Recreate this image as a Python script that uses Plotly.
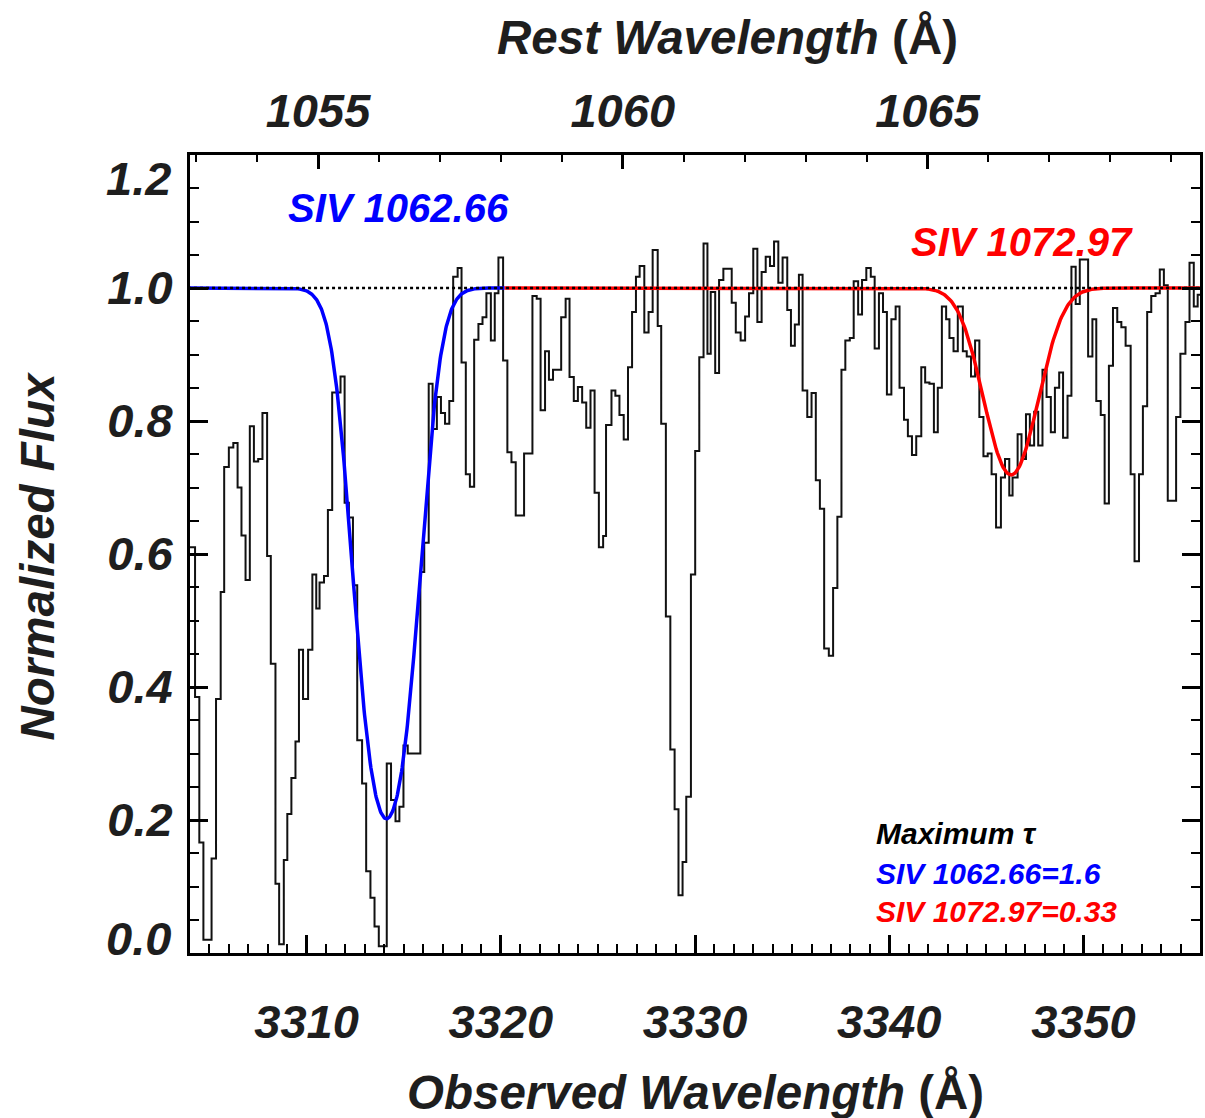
import numpy as np
import plotly.graph_objects as go

# ---------------- data ----------------
# Observed spectrum (step plot): wavelength where each flux level starts (Angstrom)
obs_wave = [
    3303.90, 3304.26, 3304.48, 3304.69, 3305.11, 3305.34, 3305.58, 3305.76, 3306.00, 3306.23,
    3306.45, 3306.65, 3306.86, 3307.08, 3307.29, 3307.51, 3307.73, 3307.97, 3308.16, 3308.40,
    3308.59, 3308.83, 3309.01, 3309.22, 3309.43, 3309.61, 3309.82, 3310.08, 3310.30, 3310.50,
    3310.67, 3310.90, 3311.10, 3311.32, 3311.75, 3311.96, 3312.18, 3312.39, 3312.61, 3312.86,
    3313.07, 3313.29, 3313.50, 3313.72, 3314.13, 3314.35, 3314.58, 3314.78, 3314.99, 3315.21,
    3315.86, 3316.06, 3316.29, 3316.49, 3316.71, 3316.92, 3317.13, 3317.35, 3317.55, 3317.78,
    3317.98, 3318.20, 3318.41, 3318.63, 3318.85, 3319.06, 3319.26, 3319.49, 3319.69, 3319.88,
    3320.12, 3320.34, 3320.55, 3320.77, 3321.20, 3321.63, 3321.85, 3322.05, 3322.28, 3322.48,
    3322.69, 3323.11, 3323.34, 3323.54, 3323.76, 3323.97, 3324.19, 3324.40, 3324.62, 3324.83,
    3325.05, 3325.27, 3325.42, 3325.70, 3325.90, 3326.11, 3326.33, 3326.55, 3326.76, 3326.96,
    3327.15, 3327.39, 3327.61, 3327.82, 3328.08, 3328.26, 3328.50, 3328.73, 3328.95, 3329.15,
    3329.36, 3329.55, 3329.79, 3330.01, 3330.22, 3330.44, 3330.64, 3330.81, 3331.04, 3331.24,
    3331.46, 3331.89, 3332.10, 3332.35, 3332.58, 3332.78, 3333.00, 3333.21, 3333.43, 3333.64,
    3333.86, 3334.07, 3334.29, 3334.51, 3334.75, 3334.94, 3335.14, 3335.35, 3335.54, 3335.78,
    3336.00, 3336.22, 3336.43, 3336.65, 3336.89, 3337.11, 3337.33, 3337.54, 3337.74, 3337.97,
    3338.17, 3338.40, 3338.60, 3338.82, 3339.05, 3339.25, 3339.47, 3339.68, 3339.88, 3340.11,
    3340.33, 3340.53, 3340.76, 3340.96, 3341.17, 3341.39, 3341.65, 3341.85, 3342.07, 3342.30,
    3342.50, 3342.71, 3342.93, 3343.10, 3343.31, 3343.53, 3343.79, 3343.99, 3344.21, 3344.42,
    3344.64, 3344.85, 3345.07, 3345.27, 3345.50, 3345.75, 3345.96, 3346.18, 3346.35, 3346.61,
    3346.81, 3347.04, 3347.24, 3347.46, 3347.67, 3347.89, 3348.10, 3348.32, 3348.53, 3348.75,
    3348.95, 3349.18, 3349.38, 3349.60, 3349.81, 3350.24, 3350.46, 3350.66, 3350.89, 3351.09,
    3351.31, 3351.52, 3351.74, 3351.95, 3352.17, 3352.43, 3352.63, 3352.86, 3353.06, 3353.28,
    3353.49, 3353.71, 3353.93, 3354.14, 3354.34, 3354.77, 3354.99, 3355.25, 3355.46, 3355.68,
    3355.88, 3356.20,
]
norm_flux = [
    0.610, 0.385, 0.166, 0.020, 0.142, 0.382, 0.543, 0.731, 0.760, 0.767,
    0.700, 0.628, 0.561, 0.792, 0.739, 0.743, 0.812, 0.597, 0.435, 0.104,
    0.013, 0.140, 0.209, 0.263, 0.318, 0.456, 0.382, 0.456, 0.569, 0.518,
    0.557, 0.567, 0.666, 0.843, 0.867, 0.677, 0.655, 0.553, 0.320, 0.255,
    0.123, 0.083, 0.040, 0.010, 0.285, 0.230, 0.198, 0.220, 0.312, 0.300,
    0.573, 0.617, 0.856, 0.788, 0.836, 0.812, 0.796, 0.830, 1.017, 1.030,
    0.888, 0.720, 0.701, 0.922, 0.946, 0.956, 0.992, 0.921, 0.992, 1.046,
    0.891, 0.753, 0.738, 0.658, 0.751, 0.988, 0.984, 0.816, 0.905, 0.862,
    0.877, 0.956, 0.984, 0.866, 0.830, 0.851, 0.828, 0.790, 0.846, 0.692,
    0.610, 0.627, 0.794, 0.846, 0.838, 0.809, 0.772, 0.881, 0.964, 1.017,
    1.033, 0.933, 0.964, 1.057, 0.943, 0.796, 0.506, 0.306, 0.216, 0.087,
    0.137, 0.235, 0.569, 0.755, 0.896, 1.067, 0.901, 0.994, 0.872, 1.012,
    1.029, 0.978, 0.933, 0.921, 0.957, 0.992, 1.059, 0.949, 1.024, 1.047,
    1.033, 1.070, 1.008, 1.046, 0.967, 0.913, 0.945, 1.020, 0.846, 0.806,
    0.842, 0.711, 0.668, 0.458, 0.447, 0.549, 0.656, 0.877, 0.921, 0.925,
    1.010, 0.960, 1.012, 1.030, 1.017, 0.909, 0.992, 0.964, 0.840, 0.953,
    0.972, 0.850, 0.802, 0.777, 0.749, 0.777, 0.881, 0.858, 0.856, 0.783,
    0.850, 0.972, 0.953, 0.925, 0.905, 0.972, 0.905, 0.897, 0.867, 0.921,
    0.806, 0.747, 0.751, 0.720, 0.640, 0.715, 0.743, 0.688, 0.715, 0.780,
    0.743, 0.810, 0.763, 0.814, 0.763, 0.877, 0.836, 0.783, 0.850, 0.873,
    0.775, 0.838, 1.032, 0.976, 1.043, 0.897, 0.953, 0.830, 0.809, 0.676,
    0.883, 0.970, 0.949, 0.941, 0.913, 0.720, 0.589, 0.720, 0.822, 0.964,
    0.988, 0.992, 1.028, 1.004, 0.680, 0.806, 0.901, 0.949, 1.038, 0.972,
    0.990, 0.990,
]

# absorption model parameters (SIV doublet)
line_names = ["SIV 1062.66", "SIV 1072.97"]
line_rest = [1062.66, 1072.97]
tau_max = [1.6, 0.33]
one_plus_z = 3.1187          # redshift of the SIV system
sigma_obs = [1.2, 1.3]        # Gaussian width, observed Angstrom
model_windows = [(3303.9, 3320.2), (3320.2, 3356.2)]
line_colors = ["#0000ff", "#ff0000"]

# top axis: rest-frame wavelength scale
rest_factor = 3.138
obs_range = [3304.0, 3356.0]
obs_ticks = [3310, 3320, 3330, 3340, 3350]
rest_ticks = [1055, 1060, 1065]
flux_ticks = [0.2, 0.4, 0.6, 0.8, 1.0]

# ---------------- figure ----------------
TXT = "#1e1e1e"
FONT = "Liberation Sans"

fig = go.Figure()

fig.add_trace(go.Scatter(
    x=obs_wave, y=norm_flux, mode="lines", line=dict(color="#111111", width=2, shape="hv"),
    showlegend=False, hoverinfo="skip"))

for lr, t0, sg, (w0, w1), col in zip(line_rest, tau_max, sigma_obs, model_windows, line_colors):
    lam = np.linspace(w0, w1, 600)
    lc = lr * one_plus_z
    tau = t0 * np.exp(-0.5 * ((lam - lc) / sg) ** 2)
    fig.add_trace(go.Scatter(x=lam, y=np.exp(-tau), mode="lines",
                             line=dict(color=col, width=3.5), showlegend=False, hoverinfo="skip"))

# continuum
fig.add_trace(go.Scatter(x=[3303.9, 3356.2], y=[1.0, 1.0], mode="lines",
                         line=dict(color="#000000", width=2.5, dash="dot"),
                         showlegend=False, hoverinfo="skip"))

# dummy trace for the top (rest-frame) axis
fig.add_trace(go.Scatter(x=[obs_range[0] / rest_factor, obs_range[1] / rest_factor], y=[None, None],
                         xaxis="x2", mode="lines", showlegend=False, hoverinfo="skip"))

tickfont = dict(family=FONT, size=47, color=TXT, weight="bold", style="italic")

fig.update_layout(
    width=1205, height=1118,
    margin=dict(l=190, r=2, t=155, b=165),
    paper_bgcolor="white", plot_bgcolor="white",
    xaxis=dict(range=obs_range, tickvals=obs_ticks, ticktext=[str(v) for v in obs_ticks],
               ticks="inside", ticklen=18, tickwidth=2.5, tickcolor="black",
               minor=dict(dtick=1, ticks="inside", ticklen=9, tickwidth=2, tickcolor="black"),
               showline=True, linewidth=3, linecolor="black", mirror=False,
               showgrid=False, zeroline=False, tickfont=tickfont, ticklabelstandoff=26),
    xaxis2=dict(range=[obs_range[0] / rest_factor, obs_range[1] / rest_factor], overlaying="x", side="top",
                tickvals=rest_ticks, ticktext=[str(v) for v in rest_ticks],
                ticks="inside", ticklen=14, tickwidth=2.5, tickcolor="black",
                minor=dict(dtick=1, ticks="inside", ticklen=7, tickwidth=2, tickcolor="black"),
                showline=True, linewidth=3, linecolor="black",
                showgrid=False, zeroline=False, tickfont=tickfont, ticklabelstandoff=6),
    yaxis=dict(range=[0, 1.2], tickvals=flux_ticks, ticktext=[f"{v:.1f}" for v in flux_ticks],
               ticks="inside", ticklen=18, tickwidth=2.5, tickcolor="black",
               minor=dict(dtick=0.05, ticks="inside", ticklen=9, tickwidth=2, tickcolor="black"),
               showline=True, linewidth=3, linecolor="black", mirror="ticks",
               showgrid=False, zeroline=False, tickfont=tickfont, ticklabelstandoff=5),
)

ann = []
# end tick labels (shifted inward as in the original)
ann.append(dict(text="1.2", x=0, xref="paper", xanchor="right", xshift=-17,
                y=(953 - 178) / 798, yref="paper", yanchor="middle", showarrow=False, font=tickfont))
ann.append(dict(text="0.0", x=0, xref="paper", xanchor="right", xshift=-17,
                y=(953 - 938) / 798, yref="paper", yanchor="middle", showarrow=False, font=tickfont))
# axis titles
title_font = dict(family=FONT, size=47.5, color=TXT, weight="bold", style="italic")
upright = '<span style="font-style:normal">(Å)</span>'
ann.append(dict(text="Observed Wavelength " + upright, x=(697 - 190) / 1013, xref="paper",
                y=(953 - 1092) / 798, yref="paper",
                xanchor="center", yanchor="middle", showarrow=False, font=title_font))
ann.append(dict(text="Rest Wavelength " + upright, x=(729 - 190) / 1013, xref="paper",
                y=(953 - 38) / 798, yref="paper",
                xanchor="center", yanchor="middle", showarrow=False, font=title_font))
ann.append(dict(text="Normalized Flux", x=(37 - 190) / 1013, xref="paper", y=(953 - 556) / 798, yref="paper",
                xanchor="center", yanchor="middle", textangle=-90, showarrow=False, font=title_font))
# line labels
ann.append(dict(text=line_names[0], x=3308.95, y=1.12, xanchor="left", yanchor="middle", showarrow=False,
                font=dict(family=FONT, size=40, color=line_colors[0], weight="bold", style="italic")))
ann.append(dict(text=line_names[1], x=3341.0, y=1.069, xanchor="left", yanchor="middle", showarrow=False,
                font=dict(family=FONT, size=40, color=line_colors[1], weight="bold", style="italic")))
# tau summary
small = 30
ann.append(dict(text="Maximum τ", x=3339.2, y=0.18, xanchor="left", yanchor="middle", showarrow=False,
                font=dict(family=FONT, size=small, color="black", weight="bold", style="italic")))
ann.append(dict(text=f"{line_names[0]}={tau_max[0]:g}", x=3339.2, y=0.12, xanchor="left", yanchor="middle",
                showarrow=False, font=dict(family=FONT, size=small, color=line_colors[0], weight="bold", style="italic")))
ann.append(dict(text=f"{line_names[1]}={tau_max[1]:g}", x=3339.2, y=0.062, xanchor="left", yanchor="middle",
                showarrow=False, font=dict(family=FONT, size=small, color=line_colors[1], weight="bold", style="italic")))

fig.update_layout(annotations=ann)
fig.write_html("out.html")
